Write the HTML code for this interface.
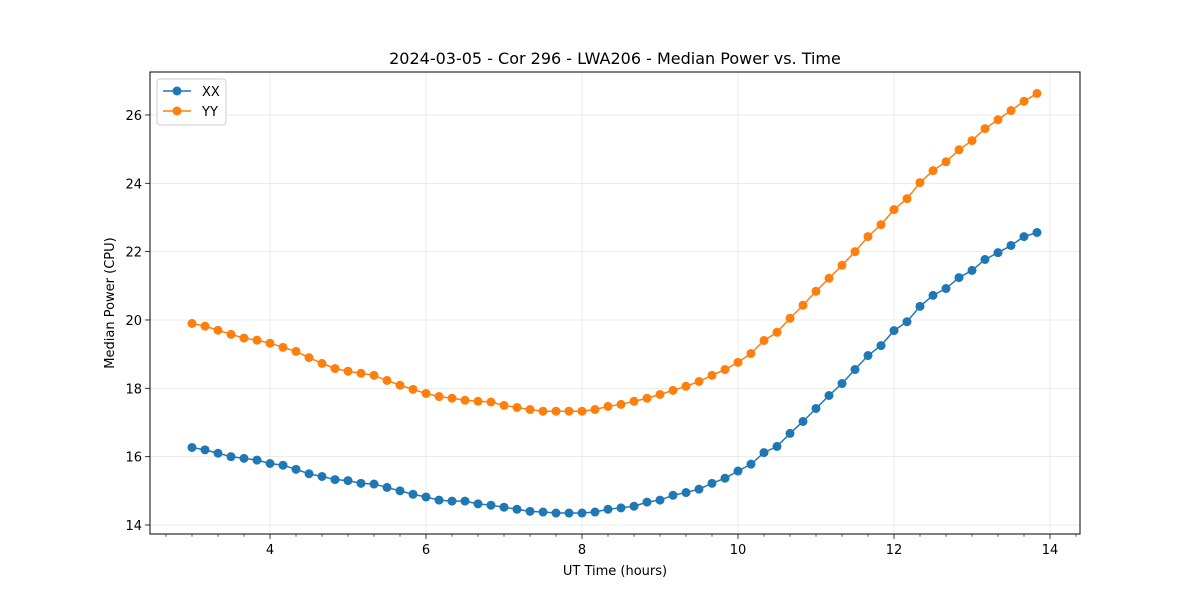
<!DOCTYPE html>
<html><head><meta charset="utf-8"><style>
html,body{margin:0;padding:0;background:#fff;}
svg{display:block;font-family:"DejaVu Sans","Liberation Sans",sans-serif;}
</style></head><body>
<svg id="chart" width="1200" height="600" viewBox="0 0 1200 600">
<rect width="1200" height="600" fill="#fff"/>
<text x="615" y="64" text-anchor="middle" font-size="16" fill="#000">2024-03-05 - Cor 296 - LWA206 - Median Power vs. Time</text>
<g id="grid"></g>
<g id="axes"></g>
<g id="series"></g>
<rect x="150" y="72" width="930" height="462" fill="none" stroke="#000" stroke-width="1"/>
<text x="615" y="575" text-anchor="middle" font-size="13">UT Time (hours)</text>
<text transform="translate(114,303) rotate(-90)" text-anchor="middle" font-size="13">Median Power (CPU)</text>
<g>
<rect x="157" y="79" width="69" height="46" rx="3" fill="#fff" fill-opacity="0.8" stroke="#ccc"/>
<g>
<line x1="163" y1="91" x2="191" y2="91" stroke="#1f77b4" stroke-width="1.5"/>
<circle cx="177" cy="91" r="4.5" fill="#1f77b4"/>
<text x="202" y="96" font-size="13">XX</text></g>
<g>
<line x1="163" y1="111" x2="191" y2="111" stroke="#ff7f0e" stroke-width="1.5"/>
<circle cx="177" cy="111" r="4.5" fill="#ff7f0e"/>
<text x="202" y="116" font-size="13">YY</text></g>
</g>
</svg>
<script>
const xTicks = [4, 6, 8, 10, 12, 14];
const yTicks = [14, 16, 18, 20, 22, 24, 26];
const xStart = 3.0;
const xStepHours = 1/6;
const xxValues = [16.27,16.2,16.1,16.0,15.95,15.9,15.8,15.75,15.63,15.5,15.42,15.33,15.3,15.22,15.2,15.1,15.0,14.9,14.82,14.73,14.7,14.7,14.62,14.58,14.52,14.46,14.4,14.38,14.35,14.35,14.35,14.38,14.46,14.5,14.55,14.67,14.73,14.87,14.95,15.05,15.22,15.37,15.58,15.78,16.12,16.3,16.68,17.03,17.41,17.79,18.14,18.55,18.96,19.25,19.69,19.95,20.4,20.72,20.92,21.24,21.45,21.77,21.97,22.18,22.44,22.56];
const yyValues = [19.9,19.82,19.7,19.58,19.47,19.41,19.32,19.2,19.08,18.9,18.73,18.58,18.5,18.44,18.38,18.23,18.09,17.97,17.85,17.76,17.71,17.65,17.62,17.6,17.5,17.44,17.38,17.33,17.33,17.33,17.33,17.38,17.47,17.53,17.62,17.71,17.82,17.94,18.06,18.2,18.38,18.55,18.76,19.02,19.4,19.64,20.05,20.43,20.84,21.22,21.6,22.0,22.44,22.79,23.23,23.55,24.02,24.37,24.63,24.98,25.25,25.6,25.86,26.13,26.4,26.63];

const NS = "http://www.w3.org/2000/svg";
const X0 = 150, X1 = 1080, Y0 = 534, Y1 = 72;
const xMin = 2.4615, xMax = 14.3846, yMin = 13.737, yMax = 27.257;
const xs = v => X0 + (v - xMin) / (xMax - xMin) * (X1 - X0);
const ys = v => Y0 - (v - yMin) / (yMax - yMin) * (Y0 - Y1);
function mk(tag, attrs, parent) {
  const e = document.createElementNS(NS, tag);
  for (const k in attrs) e.setAttribute(k, attrs[k]);
  parent.appendChild(e);
  return e;
}
const grid = document.getElementById('grid');
const axes = document.getElementById('axes');
const series = document.getElementById('series');

xTicks.forEach(t => {
  const x = xs(t);
  const g = mk('line', {x1:x, x2:x, y1:Y1, y2:Y0, stroke:'#b0b0b0', 'stroke-opacity':0.3, 'stroke-width':0.8}, grid);
  
  
  const tk = mk('line', {x1:x, x2:x, y1:Y0, y2:Y0+4.9, stroke:'#000', 'stroke-width':0.8}, axes);
  
  
  const lb = mk('text', {x:x, y:Y0+20, 'text-anchor':'middle', 'font-size':13}, axes);
  lb.textContent = t;
  
  
});
for (let k = 8; k <= 43; k++) {
  if (k % 6 === 0) continue;
  const m = k / 3;
  if (m < xMin || m > xMax) continue;
  const x = xs(m);
  const mt = mk('line', {x1:x, x2:x, y1:Y0, y2:Y0+2.8, stroke:'#000', 'stroke-width':0.6}, axes);
  
  
}
yTicks.forEach(t => {
  const y = ys(t);
  const g = mk('line', {x1:X0, x2:X1, y1:y, y2:y, stroke:'#b0b0b0', 'stroke-opacity':0.3, 'stroke-width':0.8}, grid);
  
  
  const tk = mk('line', {x1:X0-4.9, x2:X0, y1:y, y2:y, stroke:'#000', 'stroke-width':0.8}, axes);
  
  
  const lb = mk('text', {x:X0-8, y:y+5, 'text-anchor':'end', 'font-size':13}, axes);
  lb.textContent = t;
  
  
});

function drawSeries(vals, color, name) {
  const g = mk('g', {}, series);
  
  
  const pts = vals.map((v, i) => xs(xStart + i * xStepHours).toFixed(2) + ',' + ys(v).toFixed(2)).join(' ');
  const pl = mk('polyline', {points:pts, fill:'none', stroke:color, 'stroke-width':1.5}, g);
  
  
  vals.forEach((v, i) => {
    const c = mk('circle', {cx:xs(xStart + i * xStepHours), cy:ys(v), r:4.5, fill:color}, g);
    
    
  });
}
drawSeries(xxValues, '#1f77b4', 'xx');
drawSeries(yyValues, '#ff7f0e', 'yy');
</script>
</body></html>
